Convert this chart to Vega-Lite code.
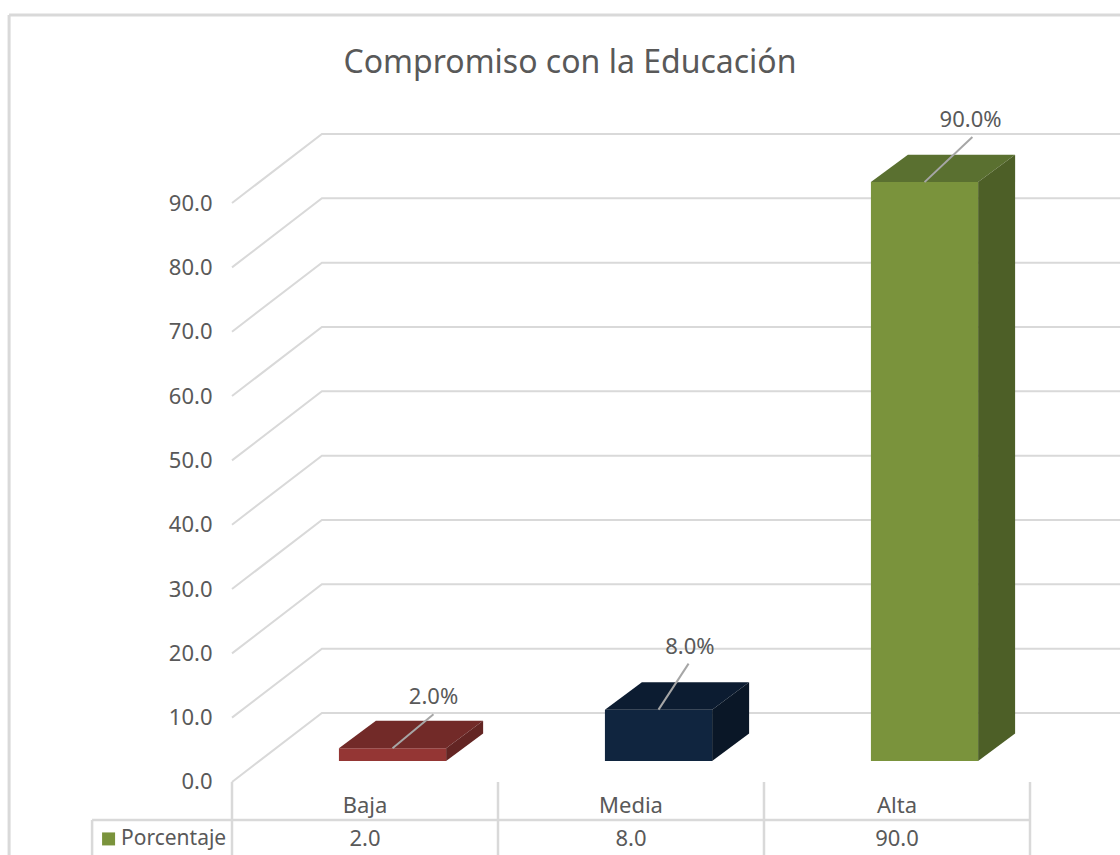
{"$schema":"https://vega.github.io/schema/vega-lite/v6.json","width":1120,"height":855,"autosize":"none","padding":0,"background":"white",
"title":{"text":"Compromiso con la Educación","anchor":"middle","frame":"group","dx":10,"offset":-80,"fontSize":32,"font":"Noto Sans","fontWeight":"normal","color":"#595959"},
"config":{"view":{"stroke":null},"text":{"font":"Noto Sans","fontSize":22,"fill":"#595959"},"axisY":{"title":null,"domain":false,"ticks":false,"grid":false,"labelPadding":0,"labelFont":"Noto Sans","labelFontSize":22,"labelColor":"#595959","offset":-212}},
"datasets":{"barras":[{"categoria":"Baja","orden":0,"valor":2},{"categoria":"Media","orden":1,"valor":8},{"categoria":"Alta","orden":2,"valor":90}],
"niveles":[{"nivel":0},{"nivel":10},{"nivel":20},{"nivel":30},{"nivel":40},{"nivel":50},{"nivel":60},{"nivel":70},{"nivel":80},{"nivel":90}],
"cortes":[{"corte":0},{"corte":1},{"corte":2},{"corte":3}],
"marco":[{"x0":-0.838,"x1":-0.838,"y0":119.23,"y1":-11.348,"w":3},{"x0":-0.838,"x1":3.33835,"y0":119.23,"y1":119.23,"w":3},{"x0":-0.526,"x1":3,"y0":-5.9,"y1":-5.9,"w":2.5},{"x0":-0.526,"x1":-0.526,"y0":-5.9,"y1":-11.348,"w":2.5}],
"serie":[{"serie":"Porcentaje"}]},
"layer":[
{"data":{"name":"niveles"},"transform":[{"calculate":"[0,1,2]","as":"p"},{"flatten":["p"]},{"calculate":"datum.p==0?0:(datum.p==1?0.338:3.34)","as":"px"},{"calculate":"datum.nivel+(datum.p==0?0:10.73)","as":"py"}],
"mark":{"type":"line","stroke":"#d9d9d9","strokeWidth":2,"clip":true},
"encoding":{"x":{"field":"px","type":"quantitative","scale":{"domain":[-0.87218,3.33835],"nice":false,"zero":false},"axis":null},
"y":{"field":"py","type":"quantitative","scale":{"domain":[-11.348,121.56],"nice":false,"zero":false},"axis":{"values":[0,10,20,30,40,50,60,70,80,90],"format":".1f","orient":"left","offset":-212,"title":null}},
"detail":{"field":"nivel","type":"nominal"},"order":{"field":"p","type":"quantitative"}}},
{"data":{"name":"cortes"},"transform":[{"calculate":"0","as":"y0"},{"calculate":"-11.348","as":"y1"}],"mark":{"type":"rule","stroke":"#d9d9d9","strokeWidth":2.5},
"encoding":{"x":{"field":"corte","type":"quantitative","scale":{"domain":[-0.87218,3.33835],"nice":false,"zero":false},"axis":null},"y":{"field":"y0","type":"quantitative","scale":{"domain":[-11.348,121.56],"nice":false,"zero":false},"axis":{"title":null}},"y2":{"field":"y1"}}},
{"data":{"name":"marco"},"mark":{"type":"rule","stroke":"#d9d9d9"},
"encoding":{"x":{"field":"x0","type":"quantitative","scale":{"domain":[-0.87218,3.33835],"nice":false,"zero":false},"axis":null},"x2":{"field":"x1"},"y":{"field":"y0","type":"quantitative","scale":{"domain":[-11.348,121.56],"nice":false,"zero":false},"axis":{"title":null}},"y2":{"field":"y1"},"strokeWidth":{"field":"w","type":"quantitative","scale":null}}},
{"data":{"name":"barras"},"transform":[{"calculate":"datum.orden+0.402","as":"x0"},{"calculate":"datum.orden+0.805","as":"x1"},{"calculate":"3.25","as":"base"},{"calculate":"datum.valor+3.25","as":"tope"},{"calculate":"datum.categoria+' frente'","as":"cara"}],
"mark":{"type":"rect"},
"encoding":{"x":{"field":"x0","type":"quantitative","scale":{"domain":[-0.87218,3.33835],"nice":false,"zero":false},"axis":null},"x2":{"field":"x1"},"y":{"field":"base","type":"quantitative","scale":{"domain":[-11.348,121.56],"nice":false,"zero":false},"axis":{"title":null}},"y2":{"field":"tope"},
"color":{"field":"cara","type":"nominal","legend":null,"scale":{"domain":["Baja frente","Baja arriba","Baja lado","Media frente","Media arriba","Media lado","Alta frente","Alta arriba","Alta lado"],"range":["#943634","#722a28","#632523","#10253f","#0c1c31","#0a1727","#7a933c","#5a7030","#4d5f27"]}}}},
{"data":{"name":"barras"},"transform":[{"calculate":"[0,1]","as":"d"},{"flatten":["d"]},{"calculate":"datum.orden+0.402+datum.d*0.139","as":"x0"},{"calculate":"datum.orden+0.805+datum.d*0.139","as":"x1"},{"calculate":"datum.valor+3.25+datum.d*4.27","as":"py"},{"calculate":"datum.categoria+' arriba'","as":"cara"}],
"mark":{"type":"area","orient":"horizontal"},
"encoding":{"x":{"field":"x0","type":"quantitative","stack":null,"scale":{"domain":[-0.87218,3.33835],"nice":false,"zero":false},"axis":null},"x2":{"field":"x1"},"y":{"field":"py","type":"quantitative","scale":{"domain":[-11.348,121.56],"nice":false,"zero":false},"axis":{"title":null}},
"color":{"field":"cara","type":"nominal","legend":null}}},
{"data":{"name":"barras"},"transform":[{"calculate":"[0,1]","as":"d"},{"flatten":["d"]},{"calculate":"datum.orden+0.805+datum.d*0.139","as":"px"},{"calculate":"3.25+datum.d*4.27","as":"base"},{"calculate":"datum.valor+3.25+datum.d*4.27","as":"tope"},{"calculate":"datum.categoria+' lado'","as":"cara"}],
"mark":{"type":"area","orient":"vertical"},
"encoding":{"x":{"field":"px","type":"quantitative","scale":{"domain":[-0.87218,3.33835],"nice":false,"zero":false},"axis":null},"y":{"field":"base","type":"quantitative","stack":null,"scale":{"domain":[-11.348,121.56],"nice":false,"zero":false},"axis":{"title":null}},"y2":{"field":"tope"},
"color":{"field":"cara","type":"nominal","legend":null}}},
{"data":{"name":"barras"},"transform":[{"calculate":"datum.orden+0.6035","as":"x0"},{"calculate":"datum.x0+({Baja:0.154,Media:0.113,Alta:0.18})[datum.categoria]","as":"x1"},{"calculate":"datum.valor+3.25","as":"y0"},{"calculate":"datum.y0+({Baja:5.29,Media:7.15,Alta:7.0})[datum.categoria]","as":"y1"}],
"mark":{"type":"rule","stroke":"#a6a6a6","strokeWidth":2},
"encoding":{"x":{"field":"x0","type":"quantitative","scale":{"domain":[-0.87218,3.33835],"nice":false,"zero":false},"axis":null},"x2":{"field":"x1"},"y":{"field":"y0","type":"quantitative","scale":{"domain":[-11.348,121.56],"nice":false,"zero":false},"axis":{"title":null}},"y2":{"field":"y1"}}},
{"data":{"name":"barras"},"transform":[{"calculate":"datum.orden+0.6035+({Baja:0.154,Media:0.118,Alta:0.173})[datum.categoria]","as":"tx"},{"calculate":"datum.valor+3.25+({Baja:8.0,Media:9.75,Alta:9.65})[datum.categoria]","as":"ty"},{"calculate":"format(datum.valor,'.1f')+'%'","as":"etiqueta"}],
"mark":{"type":"text","align":"center","baseline":"middle"},
"encoding":{"x":{"field":"tx","type":"quantitative","scale":{"domain":[-0.87218,3.33835],"nice":false,"zero":false},"axis":null},"y":{"field":"ty","type":"quantitative","scale":{"domain":[-11.348,121.56],"nice":false,"zero":false},"axis":{"title":null}},"text":{"field":"etiqueta","type":"nominal"}}},
{"data":{"name":"barras"},"transform":[{"calculate":"datum.orden+0.5","as":"tx"},{"calculate":"-3.7","as":"ty"}],
"mark":{"type":"text","align":"center","baseline":"middle"},
"encoding":{"x":{"field":"tx","type":"quantitative","scale":{"domain":[-0.87218,3.33835],"nice":false,"zero":false},"axis":null},"y":{"field":"ty","type":"quantitative","scale":{"domain":[-11.348,121.56],"nice":false,"zero":false},"axis":{"title":null}},"text":{"field":"categoria","type":"nominal"}}},
{"data":{"name":"barras"},"transform":[{"calculate":"datum.orden+0.5","as":"tx"},{"calculate":"-8.85","as":"ty"},{"calculate":"format(datum.valor,'.1f')","as":"etiqueta"}],
"mark":{"type":"text","align":"center","baseline":"middle"},
"encoding":{"x":{"field":"tx","type":"quantitative","scale":{"domain":[-0.87218,3.33835],"nice":false,"zero":false},"axis":null},"y":{"field":"ty","type":"quantitative","scale":{"domain":[-11.348,121.56],"nice":false,"zero":false},"axis":{"title":null}},"text":{"field":"etiqueta","type":"nominal"}}},
{"data":{"name":"serie"},"transform":[{"calculate":"-0.4173","as":"tx"},{"calculate":"-8.85","as":"ty"}],
"mark":{"type":"text","align":"left","baseline":"middle","fontSize":21},
"encoding":{"x":{"field":"tx","type":"quantitative","scale":{"domain":[-0.87218,3.33835],"nice":false,"zero":false},"axis":null},"y":{"field":"ty","type":"quantitative","scale":{"domain":[-11.348,121.56],"nice":false,"zero":false},"axis":{"title":null}},"text":{"field":"serie","type":"nominal"}}},
{"data":{"name":"serie"},"transform":[{"calculate":"-0.464","as":"tx"},{"calculate":"-8.85","as":"ty"}],
"mark":{"type":"point","shape":"square","filled":true,"size":169,"color":"#7a933c","opacity":1},
"encoding":{"x":{"field":"tx","type":"quantitative","scale":{"domain":[-0.87218,3.33835],"nice":false,"zero":false},"axis":null},"y":{"field":"ty","type":"quantitative","scale":{"domain":[-11.348,121.56],"nice":false,"zero":false},"axis":{"title":null}}}}
]}
